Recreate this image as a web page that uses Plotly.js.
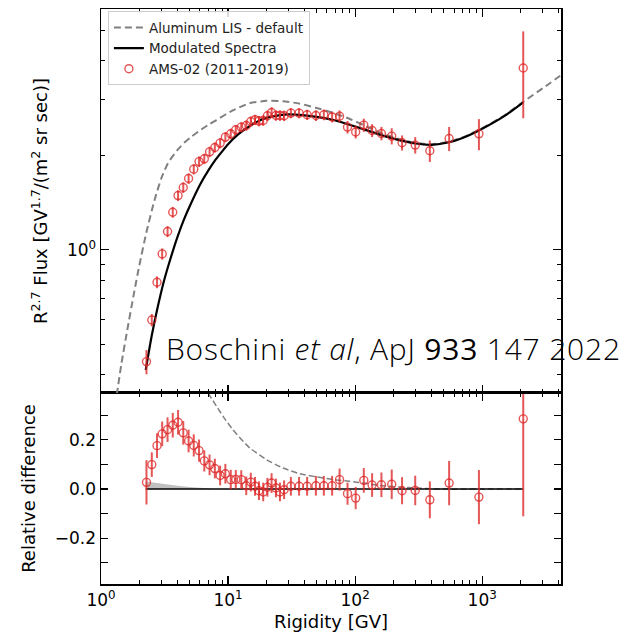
<!DOCTYPE html>
<html>
<head>
<meta charset="utf-8">
<script src="https://cdn.plot.ly/plotly-3.0.1.min.js"></script>
<style>
  html, body { margin: 0; padding: 0; background: #ffffff; }
  #chart { width: 623px; height: 634px; }
</style>
</head>
<body>
<div id="chart"></div>
<script>
// ---- AMS-02 Aluminum data ----
const rigidity = [2.28, 2.51, 2.76, 3.03, 3.34, 3.67, 4.04, 4.44, 4.89, 5.37, 5.91, 6.50, 7.15, 7.87, 8.66, 9.52, 10.5, 11.5, 12.7, 13.9,
  15.1, 16.3, 17.5, 18.9, 20.4, 22.0, 23.8, 25.6, 27.6, 31.2, 36.2, 41.9, 49.1, 56.7, 65.9, 75.4, 87.1, 101, 117, 136,
  161, 194, 234, 297, 387, 549, 942, 2103];
const flux = [0.441, 0.598, 0.789, 0.971, 1.144, 1.318, 1.489, 1.579, 1.687, 1.807, 1.910, 1.949, 2.051, 2.118, 2.187, 2.285, 2.341, 2.411, 2.459, 2.488,
  2.562, 2.594, 2.570, 2.581, 2.672, 2.737, 2.677, 2.677, 2.672, 2.725, 2.725, 2.692, 2.677, 2.692, 2.649, 2.663, 2.459, 2.373, 2.495, 2.399,
  2.347, 2.302, 2.192, 2.155, 2.067, 2.262, 2.341, 3.791];
const fluxErr = [0.039, 0.027, 0.034, 0.040, 0.046, 0.052, 0.059, 0.062, 0.065, 0.069, 0.074, 0.075, 0.079, 0.078, 0.083, 0.086, 0.090, 0.088, 0.090, 0.093,
  0.095, 0.098, 0.098, 0.099, 0.101, 0.107, 0.101, 0.103, 0.102, 0.102, 0.102, 0.101, 0.106, 0.106, 0.105, 0.115, 0.113, 0.111, 0.121, 0.113,
  0.115, 0.136, 0.121, 0.130, 0.162, 0.199, 0.266, 1.168];
const relDiff = [0.027, 0.099, 0.176, 0.224, 0.241, 0.259, 0.271, 0.228, 0.195, 0.177, 0.156, 0.114, 0.098, 0.083, 0.055, 0.062, 0.038, 0.039, 0.038, 0.013,
  0.028, 0.011, -0.007, -0.012, 0.007, 0.024, 0.004, -0.012, -0.003, 0.011, 0.011, 0.011, 0.013, 0.013, 0.013, 0.038, -0.019, -0.037, 0.035, 0.016,
  0.017, 0.019, -0.007, -0.006, -0.044, 0.024, -0.033, 0.285];
const relDiffErr = [0.09, 0.05, 0.05, 0.05, 0.05, 0.05, 0.05, 0.048, 0.046, 0.045, 0.045, 0.043, 0.042, 0.04, 0.04, 0.04, 0.04, 0.038, 0.038, 0.038,
  0.038, 0.038, 0.038, 0.038, 0.038, 0.04, 0.038, 0.038, 0.038, 0.038, 0.038, 0.038, 0.04, 0.04, 0.04, 0.045, 0.045, 0.045, 0.05, 0.048,
  0.05, 0.06, 0.055, 0.06, 0.075, 0.09, 0.11, 0.396];

// ---- Modulated spectrum (black solid) ----
const modelR = [2.25, 2.5, 2.8, 3.1, 3.5, 4.0, 4.5, 5.0, 6.0, 7.0, 8.0, 9.0, 10, 12, 14, 17, 20, 25, 30, 40, 50, 70, 100, 150, 200, 300, 400, 550, 700, 1000, 1500, 2103];
const modelFlux = [0.415, 0.53, 0.66, 0.785, 0.93, 1.10, 1.25, 1.38, 1.61, 1.79, 1.94, 2.06, 2.17, 2.33, 2.44, 2.56, 2.63, 2.68, 2.70, 2.68, 2.65, 2.58, 2.47, 2.34, 2.26, 2.18, 2.16, 2.20, 2.27, 2.43, 2.67, 2.95];
const modelRelR = [2.25, 2103];
const modelRel = [0, 0];

// ---- Aluminum LIS (grey dashed) ----
const lisR = [1.33, 1.45, 1.61, 1.82, 2.0, 2.28, 2.65, 3.0, 3.37, 4.0, 4.56, 5.2, 6.0, 7.0, 8.1, 10.9, 14.8, 20.1, 27.1, 36.7, 49.7, 67.1, 90.8, 123, 166, 225, 300, 400, 550, 700, 1000, 1500, 2103, 3000, 4220];
const lisFlux = [0.345, 0.436, 0.556, 0.73, 0.89, 1.14, 1.45, 1.70, 1.89, 2.08, 2.20, 2.30, 2.40, 2.50, 2.59, 2.78, 2.93, 2.98, 2.97, 2.92, 2.83, 2.73, 2.61, 2.47, 2.34, 2.25, 2.19, 2.17, 2.21, 2.28, 2.44, 2.68, 2.96, 3.27, 3.61];
const lisRelR = [6.96, 9.14, 10.9, 14.8, 20.1, 27.1, 36.7, 49.7, 67.1, 90.8, 123, 166, 225, 304, 420, 2103];
const lisRel = [0.39, 0.295, 0.241, 0.167, 0.119, 0.085, 0.062, 0.049, 0.038, 0.031, 0.022, 0.013, 0.008, 0.004, 0.0, 0.0];

// ---- model uncertainty band (bottom panel) ----
const bandR = [2.25, 3, 4, 5, 6, 7.2];
const bandUpper = [0.03, 0.02, 0.013, 0.008, 0.005, 0.002];
const bandLower = [0, 0, 0, 0, 0, 0];

// ---- tick labels ----
const xTickVals = [1, 10, 100, 1000];
const xTickText = ['10<sup>0</sup>', '10<sup>1</sup>', '10<sup>2</sup>', '10<sup>3</sup>'];
const xMinor = [2,3,4,5,6,7,8,9,20,30,40,50,60,70,80,90,200,300,400,500,600,700,800,900,2000,3000,4000];
const yTopTickVals = [1];
const yTopTickText = ['10<sup>0</sup>'];
const yTopMinor = [0.4, 0.5, 0.6, 0.7, 0.8, 0.9, 2, 3, 4, 5];
const yBotTickVals = [-0.2, 0, 0.2];
const yBotTickText = ['\u22120.2', '0.0', '0.2'];
const yBotMinor = [-0.3, -0.1, 0.1, 0.3];

const red = 'rgba(222,38,38,0.78)';
const FONT = 'DejaVu Sans, sans-serif';

const traces = [
  { x: lisR, y: lisFlux, type: 'scatter', mode: 'lines', name: 'Aluminum LIS - default',
    xaxis: 'x2', yaxis: 'y', line: { color: '#808080', width: 2, dash: '7px,4px', shape: 'spline', smoothing: 0.6 } },
  { x: modelR, y: modelFlux, type: 'scatter', mode: 'lines', name: 'Modulated Spectra',
    xaxis: 'x2', yaxis: 'y', line: { color: '#000000', width: 2.2, shape: 'spline', smoothing: 0.6 } },
  { x: rigidity, y: flux, type: 'scatter', mode: 'markers', name: 'AMS-02 (2011-2019)',
    xaxis: 'x2', yaxis: 'y',
    marker: { symbol: 'circle-open', size: 8, color: red, line: { width: 1.4, color: red } },
    error_y: { type: 'data', array: fluxErr, visible: true, color: red, thickness: 2, width: 0 } },
  // bottom panel
  { x: bandR, y: bandLower, type: 'scatter', mode: 'lines', showlegend: false, hoverinfo: 'skip',
    xaxis: 'x', yaxis: 'y2', line: { width: 0, color: 'rgba(0,0,0,0)' } },
  { x: bandR, y: bandUpper, type: 'scatter', mode: 'lines', showlegend: false, hoverinfo: 'skip', fill: 'tonexty',
    fillcolor: 'rgba(140,140,140,0.55)', xaxis: 'x', yaxis: 'y2', line: { width: 0, color: 'rgba(0,0,0,0)' } },
  { x: lisRelR, y: lisRel, type: 'scatter', mode: 'lines', showlegend: false,
    xaxis: 'x', yaxis: 'y2', line: { color: '#808080', width: 1.5, dash: '6px,3px', shape: 'spline', smoothing: 0.6 } },
  { x: modelRelR, y: modelRel, type: 'scatter', mode: 'lines', showlegend: false,
    xaxis: 'x', yaxis: 'y2', line: { color: '#000000', width: 1.6 } },
  { x: rigidity, y: relDiff, type: 'scatter', mode: 'markers', showlegend: false,
    xaxis: 'x', yaxis: 'y2',
    marker: { symbol: 'circle-open', size: 8, color: red, line: { width: 1.4, color: red } },
    error_y: { type: 'data', array: relDiffErr, visible: true, color: red, thickness: 2, width: 0 } }
];

const commonX = {
  type: 'log', range: [0, 3.62], showline: true, linecolor: '#000', linewidth: 1.5, mirror: 'ticks',
  ticks: 'inside', ticklen: 8, tickwidth: 1.2, tickcolor: '#000', showgrid: false, zeroline: false,
  tickmode: 'array', tickvals: xTickVals, ticktext: xTickText,
  minor: { tickmode: 'array', tickvals: xMinor, ticks: 'inside', ticklen: 4, tickwidth: 1, tickcolor: '#000', showgrid: false },
  tickfont: { family: FONT, size: 17, color: '#000' }
};

const layout = {
  width: 623, height: 634,
  margin: { l: 101, r: 62, t: 9, b: 50, pad: 0 },
  paper_bgcolor: '#fff', plot_bgcolor: '#fff',
  font: { family: FONT, color: '#000' },
  showlegend: true,
  legend: { x: 0.015, y: 0.996, xanchor: 'left', yanchor: 'top', bgcolor: 'rgba(255,255,255,0.85)', traceorder: 'normal',
    bordercolor: '#cccccc', borderwidth: 1, font: { family: FONT, size: 13.5, color: '#222' }, tracegroupgap: 0 },
  xaxis: Object.assign({}, commonX, { anchor: 'y2', domain: [0, 1],
    title: { text: 'Rigidity [GV]', font: { family: FONT, size: 18, color: '#000' }, standoff: 6 } }),
  xaxis2: Object.assign({}, commonX, { anchor: 'y', domain: [0, 1], matches: 'x', showticklabels: false }),
  yaxis: {
    type: 'log', domain: [0.3322, 1], range: [-0.4554, 0.7666], anchor: 'x2',
    showline: true, linecolor: '#000', linewidth: 1.5, mirror: 'ticks',
    ticks: 'inside', ticklen: 8, tickwidth: 1.2, tickcolor: '#000', showgrid: false, zeroline: false,
    tickmode: 'array', tickvals: yTopTickVals, ticktext: yTopTickText,
    minor: { tickmode: 'array', tickvals: yTopMinor, ticks: 'inside', ticklen: 4, tickwidth: 1, tickcolor: '#000', showgrid: false },
    tickfont: { family: FONT, size: 17, color: '#000' },
    title: { text: 'R<sup>2.7</sup> Flux [GV<sup>1.7</sup>/(m<sup>2</sup> sr sec)]', font: { family: FONT, size: 18, color: '#000' }, standoff: 14 }
  },
  yaxis2: {
    domain: [0, 0.3322], range: [-0.386, 0.39], anchor: 'x',
    showline: true, linecolor: '#000', linewidth: 1.5, mirror: 'ticks',
    ticks: 'inside', ticklen: 7, tickwidth: 1.2, tickcolor: '#000', showgrid: false, zeroline: false,
    tickmode: 'array', tickvals: yBotTickVals, ticktext: yBotTickText,
    minor: { tickmode: 'array', tickvals: yBotMinor, ticks: 'inside', ticklen: 7, tickwidth: 1.2, tickcolor: '#000', showgrid: false },
    tickfont: { family: FONT, size: 17, color: '#000' },
    title: { text: 'Relative difference', font: { family: FONT, size: 18, color: '#000' }, standoff: 14 }
  },
  annotations: [
    { xref: 'paper', yref: 'paper', x: 0.137, y: 0.4092, xanchor: 'left', yanchor: 'middle', showarrow: false,
      text: '<span style="letter-spacing:0.8px">Boschini <i>et al</i>, ApJ <span style="font-weight:400">933</span> 147 2022</span>',
      font: { family: 'Open Sans, Roboto, Liberation Sans, sans-serif', size: 30, weight: 300, color: '#000' } }
  ]
};

Plotly.newPlot('chart', traces, layout, { displayModeBar: false, staticPlot: true });
</script>
</body>
</html>
